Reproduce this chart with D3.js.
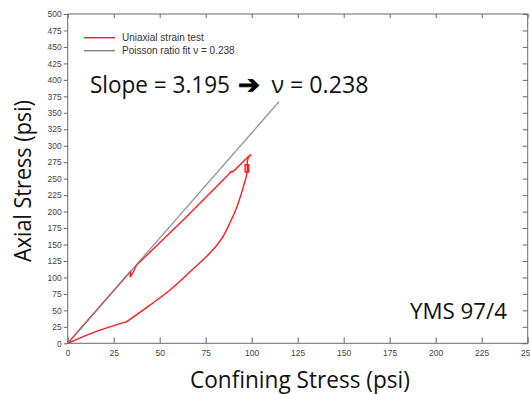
<!DOCTYPE html>
<html>
<head>
<meta charset="utf-8">
<script src="https://cdn.jsdelivr.net/npm/d3@7"></script>
<style>
  html, body { margin: 0; padding: 0; background: #fff; }
  svg { display: block; }
</style>
</head>
<body>
<svg id="chart" width="530" height="394"></svg>
<script>
// ---- Data ----
const xTicks = [0, 25, 50, 75, 100, 125, 150, 175, 200, 225, 250];
const yTicks = [0, 25, 50, 75, 100, 125, 150, 175, 200, 225, 250, 275, 300, 325, 350, 375, 400, 425, 450, 475, 500];

// Uniaxial strain test (confining stress, axial stress) in psi, path order
// loading branch (with hook, kink, peak and small loop)
const loadX = [0, 10, 20, 34.2, 33.9, 35.2, 37.5, 62.8, 88.2, 88.6, 89.2, 91, 98.2, 99.5, 98.3, 97.6, 97.6, 96.4, 96.4, 98.4, 98.4, 97.6, 97.6];
const loadY = [0, 32, 64, 109.3, 101, 106, 118.9, 187.4, 258.4, 261, 260, 263.4, 283.6, 286, 283, 276, 271, 271, 260, 260, 271, 271, 262];
// unloading branch (smooth curve down to the knee)
const unloadX = [97.6, 97.2, 95.8, 92.2, 88.2, 83.7, 77.3, 67.4, 55.6, 44.7, 32.1];
const unloadY = [262, 255, 241, 209, 183, 159, 137, 111, 81, 58, 33];
// final unloading segment back to origin
const tailX = [32.1, 16, 0];
const tailY = [33, 18.5, 0];

// Poisson ratio fit line
const fitX = [0, 114.8];
const fitSlope = 3.195;
const fitY = fitX.map(v => v * fitSlope);

const legendLabels = ["Uniaxial strain test", "Poisson ratio fit \u03bd = 0.238"];
const seriesColors = ["#ff1a1a", "#808080"];

// ---- Layout ----
const svg = d3.select("#chart");
const x = d3.scaleLinear().domain([0, 250]).range([67.7, 527.7]);
const y = d3.scaleLinear().domain([0, 500]).range([343.3, 14]);
const tickFont = "'Liberation Sans Narrow', 'Liberation Sans', Arial, sans-serif";

// frame
svg.append("rect")
  .attr("x", x(0)).attr("y", y(500))
  .attr("width", x(250) - x(0)).attr("height", y(0) - y(500))
  .attr("fill", "none").attr("stroke", "#6a6a6a").attr("stroke-width", 1);

// axes
const gLeft = svg.append("g").attr("transform", `translate(${x(0)},0)`)
  .call(d3.axisLeft(y).tickValues(yTicks).tickSize(4).tickPadding(2).tickFormat(d3.format("d")));
const gBottom = svg.append("g").attr("transform", `translate(0,${y(0)})`)
  .call(d3.axisBottom(x).tickValues(xTicks).tickSize(-6).tickPadding(7).tickFormat(d3.format("d")));
const gTop = svg.append("g").attr("transform", `translate(0,${y(500)})`)
  .call(d3.axisTop(x).tickValues(xTicks).tickSize(-4).tickFormat(""));
const gRight = svg.append("g").attr("transform", `translate(${x(250)},0)`)
  .call(d3.axisRight(y).tickValues(yTicks).tickSize(-5).tickFormat(""));

[gLeft, gBottom, gTop, gRight].forEach(g => {
  g.select(".domain").remove();
  g.selectAll(".tick line").attr("stroke", "#6a6a6a");
  g.selectAll(".tick text").attr("fill", "#444").style("font-family", tickFont).style("font-size", "8.5px");
});

// lines
const line = d3.line().x(d => x(d[0])).y(d => y(d[1]));
const smooth = d3.line().x(d => x(d[0])).y(d => y(d[1])).curve(d3.curveCatmullRom.alpha(0.5));
const redPath = (xs, ys, gen) => svg.append("path")
  .datum(xs.map((v, i) => [v, ys[i]]))
  .attr("d", gen).attr("fill", "none")
  .attr("stroke", seriesColors[0]).attr("stroke-width", 1.4)
  .attr("stroke-linejoin", "round").attr("stroke-linecap", "round");
redPath(loadX, loadY, line);
redPath(unloadX, unloadY, smooth);
redPath(tailX, tailY, smooth);
svg.append("path")
  .datum(fitX.map((v, i) => [v, fitY[i]]))
  .attr("d", line).attr("fill", "none")
  .attr("stroke", seriesColors[1]).attr("stroke-width", 1.3).attr("stroke-opacity", 0.85);

// legend
const leg = svg.append("g");
legendLabels.forEach((lab, i) => {
  const ly = 37.7 + i * 13;
  leg.append("line").attr("x1", 84).attr("x2", 115).attr("y1", ly).attr("y2", ly)
    .attr("stroke", seriesColors[i]).attr("stroke-width", 1.4);
  leg.append("text").attr("x", 122).attr("y", ly + 3.6).text(lab)
    .attr("fill", "#333").style("font-family", "'Liberation Sans', Arial, sans-serif").style("font-size", "10px");
});

// annotations
const annFont = "'Open Sans', 'Noto Sans', sans-serif";
svg.append("text").attr("x", 90).attr("y", 93.3).text("Slope = 3.195")
  .attr("textLength", 140).attr("lengthAdjust", "spacingAndGlyphs")
  .attr("fill", "#111").style("font-family", annFont).style("font-size", "23px");
svg.append("text").attr("x", 238).attr("y", 93).text("\u2794")
  .attr("textLength", 22).attr("lengthAdjust", "spacingAndGlyphs")
  .attr("fill", "#000").attr("stroke", "#000").attr("stroke-width", 0.8)
  .style("font-family", "'DejaVu Sans', sans-serif").style("font-weight", "bold").style("font-size", "25px");
svg.append("text").attr("x", 271.5).attr("y", 93.3).text("\u03bd = 0.238")
  .attr("textLength", 97).attr("lengthAdjust", "spacingAndGlyphs")
  .attr("fill", "#111").style("font-family", annFont).style("font-size", "23px");

svg.append("text").attr("x", 410).attr("y", 319.3).text("YMS 97/4")
  .attr("textLength", 97).attr("lengthAdjust", "spacingAndGlyphs")
  .attr("fill", "#111").style("font-family", annFont).style("font-size", "21px");

// axis titles
svg.append("text").attr("x", 190).attr("y", 388.3).text("Confining Stress (psi)")
  .attr("textLength", 220).attr("lengthAdjust", "spacingAndGlyphs")
  .attr("fill", "#111").style("font-family", annFont).style("font-size", "23px");
svg.append("text").attr("transform", "translate(31,262) rotate(-90)").text("Axial Stress (psi)")
  .attr("textLength", 162).attr("lengthAdjust", "spacingAndGlyphs")
  .attr("fill", "#111").style("font-family", annFont).style("font-size", "23px");
</script>
</body>
</html>
